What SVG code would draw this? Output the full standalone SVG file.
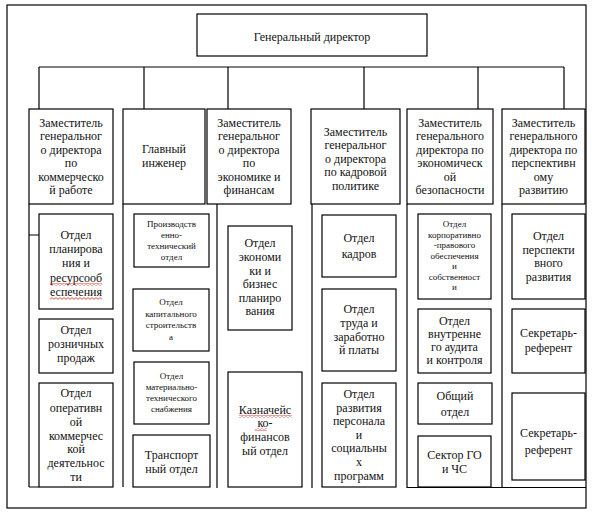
<svg xmlns="http://www.w3.org/2000/svg" width="592" height="513" viewBox="0 0 592 513">
<style>
.b{fill:#fff;stroke:#000;stroke-width:1.2}
.c{fill:none;stroke:#000;stroke-width:1.2}
text{font-family:'Liberation Serif','Times New Roman',Times,serif;font-size:12px;text-anchor:middle;fill:#111}
.s{font-size:9px}
.sq{fill:url(#sq)}
</style>
<defs>
<pattern id="sq" width="4" height="3" patternUnits="userSpaceOnUse"><path d="M0,0.6 L2,2.4 L4,0.6" fill="none" stroke="#d22" stroke-width="0.8"/></pattern>
</defs>
<rect x="0" y="0" width="592" height="513" fill="#fff"/>
<rect id="frame" x="7" y="5" width="579" height="503" class="c"/>
<g id="connectors">
<path class="c" d="M39,67 H564 M39,67 V109 M144,67 V109 M228,67 V109 M364,67 V109 M478,67 V109 M564,67 V109"/>
<path class="c" d="M29,204 V487 M29,235 H39 M29,487 H39"/>
<path class="c" d="M123,204 V487"/>
<path class="c" d="M217,204 V488"/>
<path class="c" d="M312,204 V488"/>
<path class="c" d="M407,204 V487.5 H586 M502,204 V487.5"/>
</g>
<g id="gd"><rect class="b" x="197" y="14" width="230" height="42"/><text x="312" y="41">Генеральный директор</text></g>
<g id="dep1"><rect class="b" x="29" y="109" width="84" height="95"/><text><tspan x="71" y="127">Заместитель</tspan><tspan x="71" y="140.4">генеральног</tspan><tspan x="71" y="153.8">о директора</tspan><tspan x="71" y="167.2">по</tspan><tspan x="71" y="180.6">коммерческо</tspan><tspan x="71" y="194">й работе</tspan></text></g>
<g id="dep2"><rect class="b" x="123" y="109" width="82" height="95"/><text><tspan x="164" y="153">Главный</tspan><tspan x="164" y="167">инженер</tspan></text></g>
<g id="dep3"><rect class="b" x="207" y="109" width="84" height="95"/><text><tspan x="249" y="127">Заместитель</tspan><tspan x="249" y="140.4">генеральног</tspan><tspan x="249" y="153.8">о директора</tspan><tspan x="249" y="167.2">по</tspan><tspan x="249" y="180.6">экономике и</tspan><tspan x="249" y="194">финансам</tspan></text></g>
<g id="dep4"><rect class="b" x="311" y="109" width="89" height="95"/><text><tspan x="355.5" y="136">Заместитель</tspan><tspan x="355.5" y="149.4">генеральног</tspan><tspan x="355.5" y="162.8">о директора</tspan><tspan x="355.5" y="176.2">по кадровой</tspan><tspan x="355.5" y="189.6">политике</tspan></text></g>
<g id="dep5"><rect class="b" x="407" y="109" width="86" height="95"/><text><tspan x="450" y="127">Заместитель</tspan><tspan x="450" y="140.4">генерального</tspan><tspan x="450" y="153.8">директора по</tspan><tspan x="450" y="167.2">экономическ</tspan><tspan x="450" y="180.6">ой</tspan><tspan x="450" y="194">безопасности</tspan></text></g>
<g id="dep6"><rect class="b" x="502" y="109" width="83" height="95"/><text><tspan x="543.5" y="127">Заместитель</tspan><tspan x="543.5" y="140.4">генерального</tspan><tspan x="543.5" y="153.8">директора по</tspan><tspan x="543.5" y="167.2">перспективн</tspan><tspan x="543.5" y="180.6">ому</tspan><tspan x="543.5" y="194">развитию</tspan></text></g>
<g id="c1a"><rect class="b" x="39" y="214" width="74" height="95"/><text><tspan x="76" y="239">Отдел</tspan><tspan x="76" y="253">планирова</tspan><tspan x="76" y="267">ния и</tspan><tspan x="76" y="282">ресурсооб</tspan><tspan x="76" y="296">еспечения</tspan></text><rect class="sq" x="50" y="283" width="52" height="3"/><rect class="sq" x="50" y="297" width="52" height="3"/></g>
<g id="c1b"><rect class="b" x="39" y="319" width="74" height="54"/><text><tspan x="76" y="334">Отдел</tspan><tspan x="76" y="348">розничных</tspan><tspan x="76" y="362">продаж</tspan></text></g>
<g id="c1c"><rect class="b" x="39" y="383" width="74" height="104"/><text><tspan x="76" y="397">Отдел</tspan><tspan x="76" y="411.5">оперативн</tspan><tspan x="76" y="425.5">ой</tspan><tspan x="76" y="439.5">коммерчес</tspan><tspan x="76" y="453">кой</tspan><tspan x="76" y="467">деятельнос</tspan><tspan x="76" y="481">ти</tspan></text></g>
<g id="c2a"><rect class="b" x="134" y="214" width="75" height="53"/><text class="s"><tspan x="171.5" y="227">Производств</tspan><tspan x="171.5" y="238">енно-</tspan><tspan x="171.5" y="249">технический</tspan><tspan x="171.5" y="260">отдел</tspan></text></g>
<g id="c2b"><rect class="b" x="133" y="289" width="76" height="62"/><text class="s"><tspan x="171" y="305">Отдел</tspan><tspan x="171" y="316.5">капитального</tspan><tspan x="171" y="328">строительств</tspan><tspan x="171" y="339.5">а</tspan></text></g>
<g id="c2c"><rect class="b" x="134" y="362" width="75" height="62"/><text class="s"><tspan x="171.5" y="379">Отдел</tspan><tspan x="171.5" y="390">материально-</tspan><tspan x="171.5" y="401">технического</tspan><tspan x="171.5" y="412">снабжения</tspan></text></g>
<g id="c2d"><rect class="b" x="133" y="435" width="77" height="52"/><text><tspan x="171.5" y="459">Транспорт</tspan><tspan x="171.5" y="473">ный отдел</tspan></text></g>
<g id="c3a"><rect class="b" x="228" y="226" width="64" height="104"/><text><tspan x="260" y="247">Отдел</tspan><tspan x="260" y="261">экономи</tspan><tspan x="260" y="274.5">ки и</tspan><tspan x="260" y="288">бизнес</tspan><tspan x="260" y="301.5">планиро</tspan><tspan x="260" y="315">вания</tspan></text></g>
<g id="c3b"><rect class="b" x="228" y="372" width="74" height="115"/><text><tspan x="265" y="414">Казначейс</tspan><tspan x="265" y="427">ко-</tspan><tspan x="265" y="441">финансов</tspan><tspan x="265" y="455">ый отдел</tspan></text><rect class="sq" x="239" y="415" width="53" height="3"/><rect class="sq" x="255" y="428" width="12" height="3"/></g>
<g id="c4a"><rect class="b" x="322" y="215" width="74" height="62"/><text><tspan x="359" y="242">Отдел</tspan><tspan x="359" y="258">кадров</tspan></text></g>
<g id="c4b"><rect class="b" x="322" y="289" width="74" height="82"/><text><tspan x="359" y="313">Отдел</tspan><tspan x="359" y="327">труда и</tspan><tspan x="359" y="341">заработно</tspan><tspan x="359" y="354">й платы</tspan></text></g>
<g id="c4c"><rect class="b" x="322" y="383" width="74" height="104"/><text><tspan x="359" y="398">Отдел</tspan><tspan x="359" y="411.6">развития</tspan><tspan x="359" y="425.2">персонала</tspan><tspan x="359" y="438.8">и</tspan><tspan x="359" y="452.4">социальны</tspan><tspan x="359" y="466">х</tspan><tspan x="359" y="479.6">программ</tspan></text></g>
<g id="c5a"><rect class="b" x="418" y="214" width="73" height="85"/><text class="s"><tspan x="454.5" y="227">Отдел</tspan><tspan x="454.5" y="237.5">корпоративно</tspan><tspan x="454.5" y="248">-правового</tspan><tspan x="454.5" y="258.5">обеспечения</tspan><tspan x="454.5" y="269">и</tspan><tspan x="454.5" y="279.5">собственност</tspan><tspan x="454.5" y="290">и</tspan></text></g>
<g id="c5b"><rect class="b" x="418" y="309" width="73" height="64"/><text><tspan x="454.5" y="325">Отдел</tspan><tspan x="454.5" y="338">внутренне</tspan><tspan x="454.5" y="351">го аудита</tspan><tspan x="454.5" y="364">и контроля</tspan></text></g>
<g id="c5c"><rect class="b" x="418" y="383" width="74" height="41"/><text><tspan x="455" y="400">Общий</tspan><tspan x="455" y="416">отдел</tspan></text></g>
<g id="c5d"><rect class="b" x="418" y="436" width="73" height="51"/><text><tspan x="454.5" y="459">Сектор ГО</tspan><tspan x="454.5" y="473">и ЧС</tspan></text></g>
<g id="c6a"><rect class="b" x="512" y="214" width="73" height="85"/><text><tspan x="548.5" y="240">Отдел</tspan><tspan x="548.5" y="254">перспекти</tspan><tspan x="548.5" y="267">вного</tspan><tspan x="548.5" y="281">развития</tspan></text></g>
<g id="c6b"><rect class="b" x="512" y="309" width="73" height="64"/><text><tspan x="548.5" y="337">Секретарь-</tspan><tspan x="548.5" y="352">референт</tspan></text></g>
<g id="c6c"><rect class="b" x="512" y="393" width="73" height="87"/><text><tspan x="548.5" y="437">Секретарь-</tspan><tspan x="548.5" y="454">референт</tspan></text></g>
</svg>
